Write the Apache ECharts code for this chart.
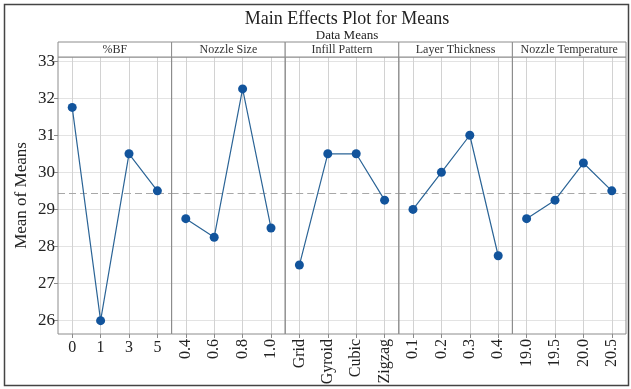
<!DOCTYPE html>
<html>
<head>
<meta charset="utf-8">
<script src="https://cdn.jsdelivr.net/npm/echarts@6/dist/echarts.min.js"></script>
<style>html,body{margin:0;padding:0;background:#fff;}#c{width:631px;height:389px;}</style>
</head>
<body>
<div id="c"></div>
<script>
// ---- data ----
const factorNames = ['%BF', 'Nozzle Size', 'Infill Pattern', 'Layer Thickness', 'Nozzle Temperature'];
const bfLevels = ['0', '1', '3', '5'];
const nozzleSizeLevels = ['0.4', '0.6', '0.8', '1.0'];
const infillLevels = ['Grid', 'Gyroid', 'Cubic', 'Zigzag'];
const layerLevels = ['0.1', '0.2', '0.3', '0.4'];
const tempLevels = ['19.0', '19.5', '20.0', '20.5'];
const bfMeans = [31.75, 26.0, 30.5, 29.5];
const nozzleSizeMeans = [28.75, 28.25, 32.25, 28.5];
const infillMeans = [27.5, 30.5, 30.5, 29.25];
const layerMeans = [29.0, 30.0, 31.0, 27.75];
const tempMeans = [28.75, 29.25, 30.25, 29.5];
const grandMean = 29.44;
const yTicks = [26, 27, 28, 29, 30, 31, 32, 33];

const levels = [bfLevels, nozzleSizeLevels, infillLevels, layerLevels, tempLevels];
const means = [bfMeans, nozzleSizeMeans, infillMeans, layerMeans, tempMeans];

// ---- layout ----
const FONT = '"Liberation Serif", "DejaVu Serif", serif';
const L = 58, R = 626, TOP = 57, BOT = 334, STRIP_TOP = 42;
const W = (R - L) / 5;
const H = BOT - TOP;
const GRID_COLOR = '#e3e3e3';

const grids = [], xAxes = [], yAxes = [], series = [], graphics = [];
for (let i = 0; i < 5; i++) {
  const left = L + i * W;
  const lv = levels[i];
  grids.push({ left: left, top: TOP, width: W, height: H, show: false });
  xAxes.push({
    type: 'category', gridIndex: i, data: lv, boundaryGap: true,
    axisLine: { show: false },
    axisTick: { show: true, alignWithLabel: true, length: 4, lineStyle: { color: '#8a8a8a' } },
    axisLabel: {
      show: true, interval: 0, rotate: i === 0 ? 0 : 90, margin: i === 0 ? 6 : 5,
      fontFamily: FONT, fontSize: 16, color: '#222'
    },
    splitLine: { show: false }
  });
  yAxes.push({
    type: 'value', gridIndex: i, min: 25.64, max: 33.11,
    axisLine: { show: false },
    axisTick: { show: i === 0, length: 4, customValues: yTicks, lineStyle: { color: '#8a8a8a' } },
    axisLabel: {
      show: i === 0, customValues: yTicks, margin: 3,
      fontFamily: FONT, fontSize: 17, color: '#222'
    },
    splitLine: { show: true, lineStyle: { color: GRID_COLOR, width: 1 } },
    name: i === 0 ? 'Mean of Means' : '',
    nameLocation: 'middle', nameGap: 28,
    nameTextStyle: { fontFamily: FONT, fontSize: 17, color: '#222' }
  });
  // helper series (invisible) carrying vertical gridlines at each level
  series.push({
    type: 'line', xAxisIndex: i, yAxisIndex: i, data: means[i], z: 1, silent: true,
    symbol: 'none', lineStyle: { opacity: 0 }, itemStyle: { opacity: 0 },
    markLine: {
      silent: true, symbol: 'none', label: { show: false },
      lineStyle: { color: '#d2d2d2', type: 'solid', width: 1 },
      emphasis: { disabled: true },
      data: lv.map((c) => ({ xAxis: c }))
    }
  });
  series.push({
    type: 'line', xAxisIndex: i, yAxisIndex: i, data: means[i],
    symbol: 'circle', symbolSize: 9,
    itemStyle: { color: '#12549c' },
    lineStyle: { color: '#2b6496', width: 1.2 },
    z: 5,
    markLine: {
      silent: true, symbol: 'none', label: { show: false },
      lineStyle: { color: '#a8a8a8', type: [7, 4], width: 1.2 },
      data: [{ yAxis: grandMean }]
    }
  });
  // panel border
  graphics.push({
    type: 'rect', silent: true, z: 50,
    shape: { x: left, y: TOP, width: W, height: H },
    style: { fill: 'none', stroke: '#8c8c8c', lineWidth: 1 }
  });
  // strip header
  graphics.push({
    type: 'rect', silent: true, z: 50,
    shape: { x: left, y: STRIP_TOP, width: W, height: TOP - STRIP_TOP },
    style: { fill: '#fff', stroke: '#8c8c8c', lineWidth: 1 }
  });
  graphics.push({
    type: 'text', silent: true, z: 51, x: left + W / 2, y: (STRIP_TOP + TOP) / 2 + 0.5,
    style: { text: factorNames[i], fontFamily: FONT, fontSize: 12, fill: '#333',
             textAlign: 'center', textVerticalAlign: 'middle' }
  });
}
// outer frame
graphics.push({
  type: 'rect', silent: true, z: 100,
  shape: { x: 4.5, y: 4.5, width: 624, height: 381 },
  style: { fill: 'none', stroke: '#444', lineWidth: 1.5 }
});

const chart = echarts.init(document.getElementById('c'));
chart.setOption({
  backgroundColor: '#fff',
  animation: false,
  title: {
    text: 'Main Effects Plot for Means', subtext: 'Data Means',
    left: 342, textAlign: 'center', top: 5, itemGap: 1,
    textStyle: { fontFamily: FONT, fontSize: 18, fontWeight: 'normal', color: '#222' },
    subtextStyle: { fontFamily: FONT, fontSize: 13, color: '#222' }
  },
  grid: grids, xAxis: xAxes, yAxis: yAxes, series: series, graphic: graphics
});
</script>
</body>
</html>
